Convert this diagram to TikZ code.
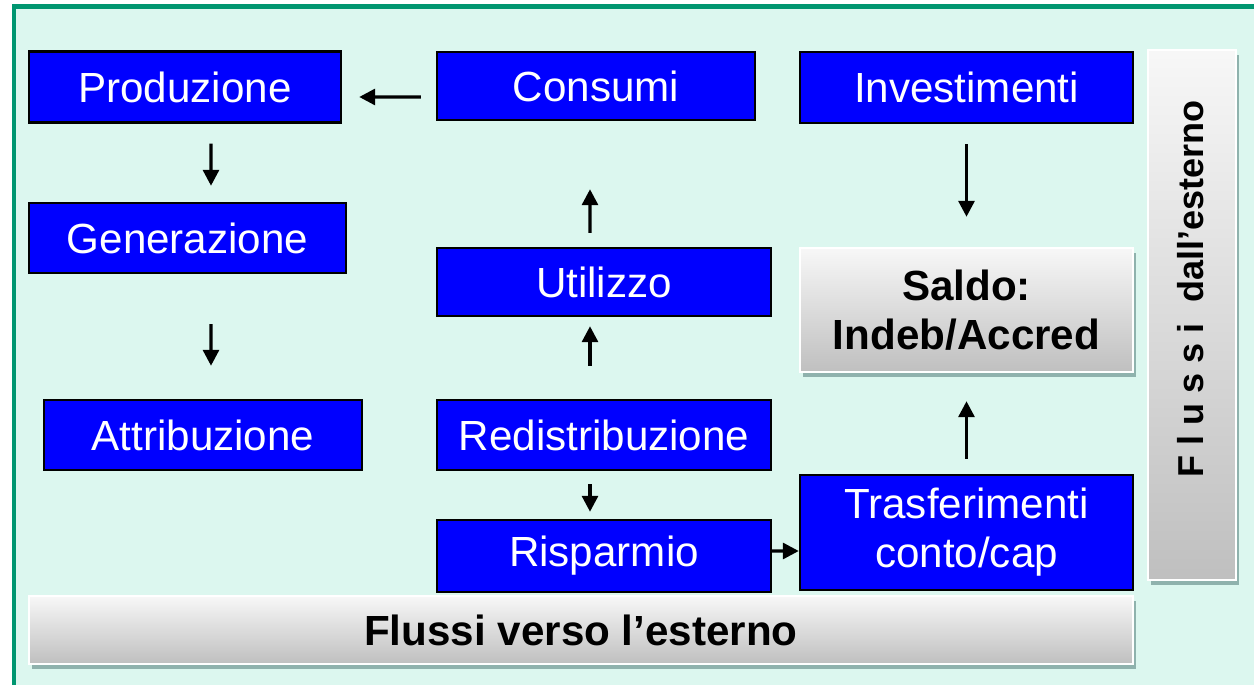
\documentclass[tikz,border=0pt]{standalone}
\usepackage{fontspec}
\setmainfont{Liberation Sans}
\usetikzlibrary{positioning, arrows.meta, shadows}
\definecolor{mint}{RGB}{220,247,239}
\definecolor{frame_green}{RGB}{0,150,112}
\definecolor{box_blue}{RGB}{0,0,255}

\begin{document}
\begin{tikzpicture}
    [
        x=0.02cm, y=-0.02cm,
        blue_node/.style={rectangle, draw=black, fill=box_blue, line width=0.5mm, inner sep=0pt, text=white, font=\fontsize{24}{28}\selectfont, align=center},
        grey_node/.style={rectangle, draw=white, line width=0.5mm, top color=black!3, bottom color=black!25, inner sep=0pt, font=\fontsize{24}{28}\selectfont\bfseries, align=center, drop shadow={shadow xshift=0.06cm, shadow yshift=-0.1cm, opacity=0.35, fill=black!60!teal}},
        flow_arrow/.style={-{Triangle[length=3.2mm, width=3.2mm]}, line width=0.65mm, color=black},
    ]
        \useasboundingbox (0,0) rectangle (1254,685) ;
        \fill[white] (0,0) rectangle (1254,685) ;
        \draw[draw=frame_green, fill=mint, line width=1mm] (14,6.5) rectangle (1280,700) ;
        \node[blue_node, minimum width=6.24cm, minimum height=1.42cm] (prod) at (185,87) {Produzione} ;
        \node[blue_node, minimum width=6.36cm, minimum height=1.36cm] (cons) at (596,86) {Consumi} ;
        \node[blue_node, minimum width=6.66cm, minimum height=1.42cm] (inv) at (966.5,87.5) {Investimenti} ;
        \node[blue_node, minimum width=6.34cm, minimum height=1.40cm] (gen) at (187.5,238) {Generazione} ;
        \node[blue_node, minimum width=6.68cm, minimum height=1.36cm] (util) at (604,282) {Utilizzo} ;
        \node[grey_node, minimum width=6.66cm, minimum height=2.48cm] (saldo) at (966.5,310) {Saldo:\\Indeb/Accred} ;
        \node[blue_node, minimum width=6.36cm, minimum height=1.40cm] (attr) at (203,435) {Attribuzione} ;
        \node[blue_node, minimum width=6.68cm, minimum height=1.40cm] (redis) at (604,435) {Redistribuzione} ;
        \node[blue_node, minimum width=6.68cm, minimum height=1.44cm] (risp) at (604,556) {Risparmio} ;
        \node[blue_node, minimum width=6.66cm, minimum height=2.30cm] (trasf) at (966.5,532.5) {Trasferimenti\\conto/cap} ;
        \node[grey_node, minimum width=22.08cm, minimum height=1.36cm] (verso) at (581,630) {Flussi verso l’esterno} ;
        \node[grey_node, minimum width=1.76cm, minimum height=10.6cm] (dall) at (1192,315) {} ;
        \node[rotate=90, font=\fontsize{20.5}{24}\selectfont\bfseries] (dall_text) at (1191,289) {F l u s s i\hspace{0.6em}dall’esterno} ;
        \draw[flow_arrow, shorten <=3mm, shorten >=3.4mm] ([yshift=-2.2mm]cons.west) -- ([yshift=-2mm]prod.east) ;
        \draw[flow_arrow, shorten <=4mm, shorten >=3.2mm] ([xshift=5.2mm]prod.south) -- ([xshift=4.7mm]gen.north) ;
        \draw[flow_arrow, shorten <=10mm, shorten >=6.6mm] ([xshift=4.7mm]gen.south) -- ([xshift=1.6mm]attr.north) ;
        \draw[flow_arrow, shorten <=2.8mm, shorten >=13.6mm] ([xshift=-2.8mm]util.north) -- ([xshift=-1.2mm]cons.south) ;
        \draw[flow_arrow, shorten <=6.6mm, shorten >=1.8mm] ([xshift=-2.8mm]redis.north) -- ([xshift=-2.8mm]util.south) ;
        \draw[flow_arrow, shorten <=2.6mm, shorten >=1.4mm] ([xshift=-2.8mm]redis.south) -- ([xshift=-2.8mm]risp.north) ;
        \draw[flow_arrow] ([yshift=1mm]risp.east) -- ([yshift=-3.7mm]trasf.west) ;
        \draw[flow_arrow, shorten <=4mm, shorten >=6mm] (inv.south) -- (saldo.north) ;
        \draw[flow_arrow, shorten <=3mm, shorten >=5.6mm] (trasf.north) -- (saldo.south) ;
    \end{tikzpicture}
\end{document}
